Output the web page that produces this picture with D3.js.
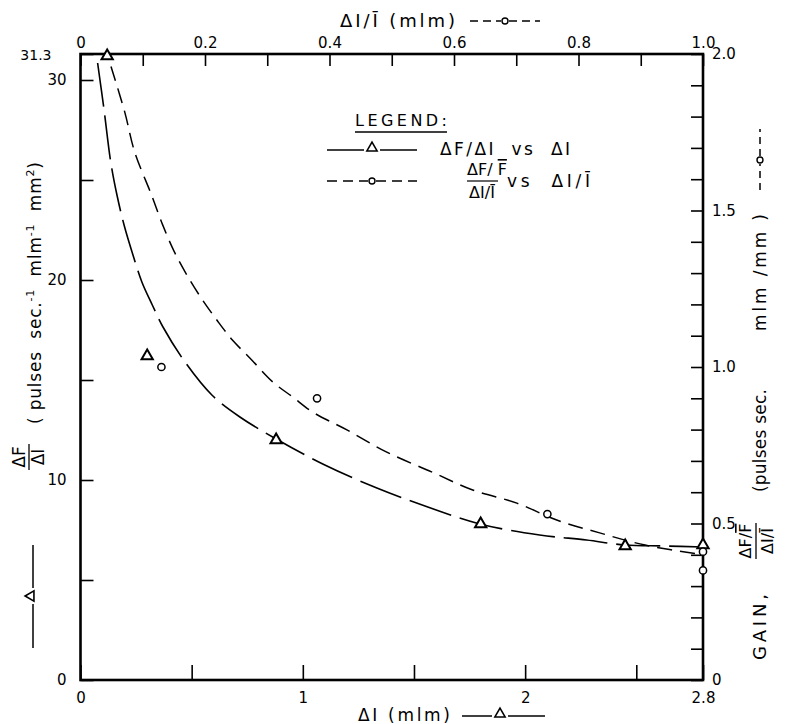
<!DOCTYPE html>
<html>
<head>
<meta charset="utf-8">
<script src="https://cdn.jsdelivr.net/npm/d3@7"></script>
<style>
body { margin: 0; background: #fff; }
text { font-family: "DejaVu Sans", "Liberation Sans", sans-serif; fill: #000; }
</style>
</head>
<body>
<script>
// triangles: dF/dI vs dI (bottom + left axes)
var triDI = [0.12, 0.30, 0.88, 1.80, 2.45, 2.80];
var triRate = [31.2, 16.2, 12.0, 7.8, 6.7, 6.75];
// circles: gain vs dI/I (top + right axes)
var circRel = [0.13, 0.38, 0.75, 1.0, 1.0];
var circGain = [1.0, 0.90, 0.53, 0.41, 0.35];

// hand drawn fitted curves
var rateCurveX = [0.077, 0.106, 0.136, 0.164, 0.196, 0.236, 0.276, 0.323, 0.371, 0.470, 0.591, 0.717, 0.888, 1.099, 1.333, 1.562, 1.796, 2.065, 2.276, 2.447, 2.627, 2.8];
var rateCurveY = [30.85, 28.5, 25.9, 24.25, 22.75, 21.25, 19.9, 18.75, 17.65, 15.9, 14.25, 13.15, 12.0, 10.75, 9.6, 8.65, 7.8, 7.25, 7.0, 6.75, 6.7, 6.65];
var gainCurveX = [0.049, 0.071, 0.087, 0.114, 0.132, 0.150, 0.170, 0.195, 0.219, 0.244, 0.272, 0.309, 0.341, 0.373, 0.428, 0.492, 0.564, 0.630, 0.701, 0.765, 0.834, 0.907, 1.0];
var gainCurveY = [1.96, 1.815, 1.687, 1.55, 1.454, 1.371, 1.297, 1.217, 1.150, 1.086, 1.029, 0.952, 0.904, 0.856, 0.799, 0.728, 0.665, 0.607, 0.565, 0.511, 0.470, 0.431, 0.40];

// tick values
var bottomTicks = [0, 0.5, 1, 1.5, 2, 2.5, 2.8];
var bottomLabels = [0, 1, 2, 2.8];
var leftTicks = [0, 5, 10, 15, 20, 25, 30, 31.3];
var leftLabels = [0, 10, 20, 30, 31.3];
var topTicks = [0, 0.1, 0.2, 0.3, 0.4, 0.5, 0.6, 0.7, 0.8, 0.9, 1.0];
var topLabels = [0, 0.2, 0.4, 0.6, 0.8, 1.0];
var rightTicks = [0, 0.1, 0.2, 0.3, 0.4, 0.5, 0.6, 0.7, 0.8, 0.9, 1.0, 1.1, 1.2, 1.3, 1.4, 1.5, 1.6, 1.7, 1.8, 1.9, 2.0];
var rightLabels = [0, 0.5, 1.0, 1.5, 2.0];

var width = 785, height = 724;

var svg = d3.select("body").append("svg")
  .attr("width", width)
  .attr("height", height);

// scales
var x = d3.scaleLinear().domain([0, 2.8]).range([80.5, 703]);
var y = d3.scaleLinear().domain([0, 31.3]).range([680, 54]);
var xTop = d3.scaleLinear().domain([0, 1]).range([80.5, 703]);
var yR = d3.scaleLinear().domain([0, 2]).range([680, 54]);

function fmt(labels, digits) {
  return function(d) {
    if (labels.indexOf(d) < 0) return "";
    if (d === 0) return "0";
    return digits ? d.toFixed(digits) : String(d);
  };
}

var gB = svg.append("g").attr("transform", "translate(0,680)")
  .call(d3.axisBottom(x).tickValues(bottomTicks).tickSizeInner(-15).tickSizeOuter(0).tickPadding(12)
    .tickFormat(fmt(bottomLabels, 0)));
var gL = svg.append("g").attr("transform", "translate(80.5,0)")
  .call(d3.axisLeft(y).tickValues(leftTicks).tickSizeInner(-13).tickSizeOuter(0).tickPadding(14)
    .tickFormat(fmt(leftLabels, 0)));
var gT = svg.append("g").attr("transform", "translate(0,54)")
  .call(d3.axisTop(xTop).tickValues(topTicks).tickSizeInner(-12).tickSizeOuter(0).tickPadding(6)
    .tickFormat(fmt(topLabels, 1)));
var gR = svg.append("g").attr("transform", "translate(703,0)")
  .call(d3.axisRight(yR).tickValues(rightTicks).tickSizeInner(-12).tickSizeOuter(0).tickPadding(9)
    .tickFormat(fmt(rightLabels, 1)));

[gB, gL, gT, gR].forEach(function(g) {
  g.select(".domain").remove();
  g.selectAll(".tick line").attr("stroke", "#000").attr("stroke-width", 1.6);
  g.selectAll(".tick text").attr("font-size", 15).attr("font-family", "Liberation Sans, Arial, sans-serif");
});
gL.selectAll(".tick text").filter(function(d) { return d === 31.3; })
  .attr("font-size", 14).attr("x", -29).attr("dy", "0.4em");

// frame
svg.append("rect")
  .attr("x", x(0)).attr("y", y(31.3))
  .attr("width", x(2.8) - x(0)).attr("height", y(0) - y(31.3))
  .attr("fill", "none").attr("stroke", "#000").attr("stroke-width", 2.6);

// curves
var rateLine = d3.line()
  .x(function(d) { return x(d[0]); })
  .y(function(d) { return y(d[1]); })
  .curve(d3.curveCatmullRom.alpha(0.5));
var gainLine = d3.line()
  .x(function(d) { return xTop(d[0]); })
  .y(function(d) { return yR(d[1]); })
  .curve(d3.curveCatmullRom.alpha(0.5));

svg.append("path")
  .datum(rateCurveX.map(function(v, i) { return [v, rateCurveY[i]]; }))
  .attr("d", rateLine)
  .attr("fill", "none").attr("stroke", "#000").attr("stroke-width", 1.6)
  .attr("stroke-dasharray", "44,9");

svg.append("path")
  .datum(gainCurveX.map(function(v, i) { return [v, gainCurveY[i]]; }))
  .attr("d", gainLine)
  .attr("fill", "none").attr("stroke", "#000").attr("stroke-width", 1.5)
  .attr("stroke-dasharray", "15,8");

// markers
var tri = d3.symbol().type(d3.symbolTriangle).size(55);
svg.selectAll(".tri")
  .data(triDI)
  .enter().append("path")
  .attr("class", "tri")
  .attr("d", tri)
  .attr("transform", function(d, i) { return "translate(" + x(d) + "," + y(triRate[i]) + ")"; })
  .attr("fill", "#fff").attr("stroke", "#000").attr("stroke-width", 2);

svg.selectAll(".circ")
  .data(circRel)
  .enter().append("circle")
  .attr("class", "circ")
  .attr("cx", function(d) { return xTop(d); })
  .attr("cy", function(d, i) { return yR(circGain[i]); })
  .attr("r", 3.6)
  .attr("fill", "#fff").attr("stroke", "#000").attr("stroke-width", 1.5);

// little legend-style symbols
function triSym(g, cx, cy, x1, x2) {
  g.append("line").attr("x1", x1).attr("x2", cx - 8).attr("y1", cy).attr("y2", cy)
    .attr("stroke", "#000").attr("stroke-width", 1.5);
  g.append("line").attr("x1", cx + 8).attr("x2", x2).attr("y1", cy).attr("y2", cy)
    .attr("stroke", "#000").attr("stroke-width", 1.5);
  g.append("path").attr("d", d3.symbol().type(d3.symbolTriangle).size(45))
    .attr("transform", "translate(" + cx + "," + (cy - 2) + ")")
    .attr("fill", "#fff").attr("stroke", "#000").attr("stroke-width", 1.6);
}
function circSym(g, cx, cy, x1, x2, dash) {
  g.append("line").attr("x1", x1).attr("x2", cx - 4).attr("y1", cy).attr("y2", cy)
    .attr("stroke", "#000").attr("stroke-width", 1.5).attr("stroke-dasharray", dash);
  g.append("line").attr("x1", cx + 4).attr("x2", x2).attr("y1", cy).attr("y2", cy)
    .attr("stroke", "#000").attr("stroke-width", 1.5).attr("stroke-dasharray", dash);
  g.append("circle").attr("cx", cx).attr("cy", cy).attr("r", 3)
    .attr("fill", "#fff").attr("stroke", "#000").attr("stroke-width", 1.4);
}

// top title
svg.append("text").attr("x", 340).attr("y", 27).attr("font-size", 18)
  .attr("textLength", 115).attr("lengthAdjust", "spacing")
  .text("\u0394I/\u012A (mlm)");
circSym(svg.append("g"), 505, 21, 470, 540, "8,5");

// bottom title
svg.append("text").attr("x", 358).attr("y", 721).attr("font-size", 17)
  .attr("textLength", 92).attr("lengthAdjust", "spacing")
  .text("\u0394I (mlm)");
triSym(svg.append("g"), 500, 716, 462, 545);

// legend
var lg = svg.append("g");
lg.append("text").attr("x", 355).attr("y", 126).attr("font-size", 16)
  .attr("textLength", 92).attr("lengthAdjust", "spacing")
  .text("LEGEND:");
lg.append("line").attr("x1", 355).attr("x2", 447).attr("y1", 132).attr("y2", 132)
  .attr("stroke", "#000").attr("stroke-width", 1.3);
triSym(lg, 372, 150, 327, 417);
lg.append("text").attr("x", 440).attr("y", 155).attr("font-size", 17)
  .attr("xml:space", "preserve").attr("textLength", 130).attr("lengthAdjust", "spacing")
  .text("\u0394F/\u0394I  vs  \u0394I");
circSym(lg, 372, 181, 327, 417, "10,6");
var num = lg.append("text").attr("x", 487).attr("y", 175).attr("font-size", 16).attr("text-anchor", "middle");
num.append("tspan").text("\u0394F/ ");
num.append("tspan").style("text-decoration", "overline").text("F");
lg.append("line").attr("x1", 467).attr("x2", 498).attr("y1", 181).attr("y2", 181)
  .attr("stroke", "#000").attr("stroke-width", 1.2);
lg.append("text").attr("x", 482).attr("y", 198).attr("font-size", 16).attr("text-anchor", "middle")
  .text("\u0394I/\u012A");
lg.append("text").attr("x", 507).attr("y", 187).attr("font-size", 17)
  .attr("xml:space", "preserve").attr("textLength", 83).attr("lengthAdjust", "spacing")
  .text("vs  \u0394I/\u012A");

// left axis title (rotated)
var lt = svg.append("g").attr("transform", "translate(29,457) rotate(-90)");
lt.append("text").attr("x", 0).attr("y", -4).attr("font-size", 17).attr("text-anchor", "middle")
  .text("\u0394F");
lt.append("line").attr("x1", -13).attr("x2", 13).attr("y1", 0).attr("y2", 0)
  .attr("stroke", "#000").attr("stroke-width", 1.3);
lt.append("text").attr("x", 0).attr("y", 15).attr("font-size", 17).attr("text-anchor", "middle")
  .text("\u0394I");
var lt2 = svg.append("g").attr("transform", "translate(41,424) rotate(-90)");
var t2 = lt2.append("text").attr("x", 0).attr("y", 0).attr("font-size", 17)
  .attr("letter-spacing", 0.8).attr("xml:space", "preserve");
t2.append("tspan").text("( pulses  sec.");
t2.append("tspan").attr("dy", -7).attr("font-size", 11).text("-1");
t2.append("tspan").attr("dy", 7).text("  mlm");
t2.append("tspan").attr("dy", -7).attr("font-size", 11).text("-1");
t2.append("tspan").attr("dy", 7).text("  mm");
t2.append("tspan").attr("dy", -7).attr("font-size", 11).text("2");
t2.append("tspan").attr("dy", 7).text(")");
var lt3 = svg.append("g").attr("transform", "translate(33,0) rotate(-90)");
triSym(lt3, -596, 0, -648, -545);

// right axis title (rotated)
var rt = svg.append("g").attr("transform", "translate(766,680) rotate(-90)");
rt.append("text").attr("x", 20).attr("y", 0).attr("font-size", 18)
  .attr("textLength", 66).attr("lengthAdjust", "spacing").text("GAIN,");
var rn = rt.append("text").attr("x", 139).attr("y", -15).attr("font-size", 16).attr("text-anchor", "middle");
rn.append("tspan").text("\u0394F/");
rn.append("tspan").style("text-decoration", "overline").text("F");
rt.append("line").attr("x1", 121).attr("x2", 157).attr("y1", -10).attr("y2", -10)
  .attr("stroke", "#000").attr("stroke-width", 1.3);
rt.append("text").attr("x", 139).attr("y", 7).attr("font-size", 16).attr("text-anchor", "middle")
  .text("\u0394I/\u012A");
rt.append("text").attr("x", 188).attr("y", 0).attr("font-size", 17)
  .attr("textLength", 103).attr("lengthAdjust", "spacing").text("(pulses sec.");
rt.append("text").attr("x", 349).attr("y", 0).attr("font-size", 17)
  .attr("textLength", 117).attr("lengthAdjust", "spacing").text("mlm /mm )");
circSym(rt, 520, -6, 490, 551, "7,5");
</script>
</body>
</html>
